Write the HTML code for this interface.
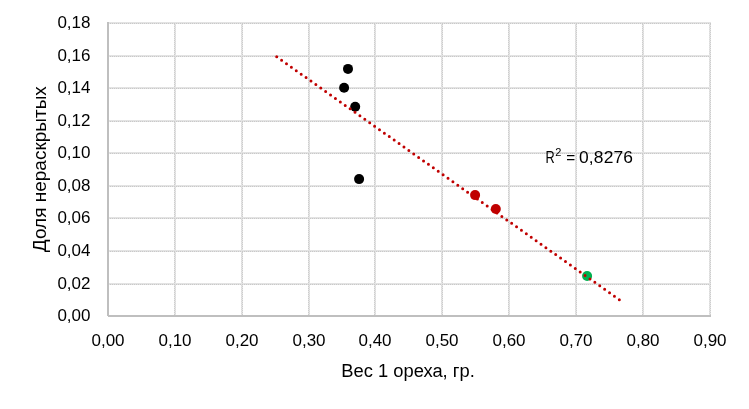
<!DOCTYPE html>
<html><head><meta charset="utf-8"><style>
html,body{margin:0;padding:0;background:#fff;width:749px;height:409px;overflow:hidden}
svg{display:block;will-change:transform}
.t{font-family:"Liberation Sans",sans-serif;fill:#000;-webkit-font-smoothing:antialiased}
</style></head><body>
<svg width="749" height="409" viewBox="0 0 749 409">
<defs><pattern id="gp" x="0" y="0" width="2" height="2" patternUnits="userSpaceOnUse"><rect width="2" height="2" fill="#e6e6e6"/><rect width="1" height="1" fill="#cdcdcd"/><rect x="1" y="1" width="1" height="1" fill="#dadada"/></pattern></defs>
<rect x="174" y="22" width="2" height="293" fill="url(#gp)"/>
<rect x="241" y="22" width="2" height="293" fill="url(#gp)"/>
<rect x="308" y="22" width="2" height="293" fill="url(#gp)"/>
<rect x="374" y="22" width="2" height="293" fill="url(#gp)"/>
<rect x="441" y="22" width="2" height="293" fill="url(#gp)"/>
<rect x="508" y="22" width="2" height="293" fill="url(#gp)"/>
<rect x="575" y="22" width="2" height="293" fill="url(#gp)"/>
<rect x="642" y="22" width="2" height="293" fill="url(#gp)"/>
<rect x="709" y="22" width="2" height="293" fill="url(#gp)"/>
<rect x="107" y="22" width="604" height="2" fill="#e3e3e3"/>
<line x1="107" y1="23.5" x2="711" y2="23.5" stroke="#c9c9c9" stroke-width="1" stroke-dasharray="1 1" stroke-dashoffset="1"/>
<rect x="107" y="55" width="604" height="2" fill="#e3e3e3"/>
<line x1="107" y1="56.5" x2="711" y2="56.5" stroke="#c9c9c9" stroke-width="1" stroke-dasharray="1 1" stroke-dashoffset="1"/>
<rect x="107" y="87" width="604" height="2" fill="#e3e3e3"/>
<line x1="107" y1="88.5" x2="711" y2="88.5" stroke="#c9c9c9" stroke-width="1" stroke-dasharray="1 1" stroke-dashoffset="1"/>
<rect x="107" y="120" width="604" height="2" fill="#e3e3e3"/>
<line x1="107" y1="121.5" x2="711" y2="121.5" stroke="#c9c9c9" stroke-width="1" stroke-dasharray="1 1" stroke-dashoffset="1"/>
<rect x="107" y="152" width="604" height="2" fill="#e3e3e3"/>
<line x1="107" y1="153.5" x2="711" y2="153.5" stroke="#c9c9c9" stroke-width="1" stroke-dasharray="1 1" stroke-dashoffset="1"/>
<rect x="107" y="185" width="604" height="2" fill="#e3e3e3"/>
<line x1="107" y1="186.5" x2="711" y2="186.5" stroke="#c9c9c9" stroke-width="1" stroke-dasharray="1 1" stroke-dashoffset="1"/>
<rect x="107" y="217" width="604" height="2" fill="#e3e3e3"/>
<line x1="107" y1="218.5" x2="711" y2="218.5" stroke="#c9c9c9" stroke-width="1" stroke-dasharray="1 1" stroke-dashoffset="1"/>
<rect x="107" y="250" width="604" height="2" fill="#e3e3e3"/>
<line x1="107" y1="251.5" x2="711" y2="251.5" stroke="#c9c9c9" stroke-width="1" stroke-dasharray="1 1" stroke-dashoffset="1"/>
<rect x="107" y="283" width="604" height="2" fill="#e3e3e3"/>
<line x1="107" y1="284.5" x2="711" y2="284.5" stroke="#c9c9c9" stroke-width="1" stroke-dasharray="1 1" stroke-dashoffset="1"/>
<rect x="107" y="22" width="2" height="294" fill="#bfbfbf"/>
<rect x="108" y="315" width="603" height="2" fill="#bfbfbf"/>
<text x="90.5" y="27.60" text-anchor="end" class="t" font-size="17">0,18</text>
<text x="90.5" y="60.60" text-anchor="end" class="t" font-size="17">0,16</text>
<text x="90.5" y="92.60" text-anchor="end" class="t" font-size="17">0,14</text>
<text x="90.5" y="125.60" text-anchor="end" class="t" font-size="17">0,12</text>
<text x="90.5" y="157.60" text-anchor="end" class="t" font-size="17">0,10</text>
<text x="90.5" y="190.60" text-anchor="end" class="t" font-size="17">0,08</text>
<text x="90.5" y="222.60" text-anchor="end" class="t" font-size="17">0,06</text>
<text x="90.5" y="255.60" text-anchor="end" class="t" font-size="17">0,04</text>
<text x="90.5" y="288.60" text-anchor="end" class="t" font-size="17">0,02</text>
<text x="90.5" y="320.60" text-anchor="end" class="t" font-size="17">0,00</text>
<text x="108.00" y="346" text-anchor="middle" class="t" font-size="17">0,00</text>
<text x="175.00" y="346" text-anchor="middle" class="t" font-size="17">0,10</text>
<text x="242.00" y="346" text-anchor="middle" class="t" font-size="17">0,20</text>
<text x="309.00" y="346" text-anchor="middle" class="t" font-size="17">0,30</text>
<text x="375.00" y="346" text-anchor="middle" class="t" font-size="17">0,40</text>
<text x="442.00" y="346" text-anchor="middle" class="t" font-size="17">0,50</text>
<text x="509.00" y="346" text-anchor="middle" class="t" font-size="17">0,60</text>
<text x="576.00" y="346" text-anchor="middle" class="t" font-size="17">0,70</text>
<text x="643.00" y="346" text-anchor="middle" class="t" font-size="17">0,80</text>
<text x="710.00" y="346" text-anchor="middle" class="t" font-size="17">0,90</text>
<circle cx="348.0" cy="68.9" r="5" fill="#000"/>
<circle cx="344.1" cy="87.8" r="5" fill="#000"/>
<circle cx="355.2" cy="106.7" r="5" fill="#000"/>
<circle cx="359.1" cy="179.1" r="5" fill="#000"/>
<circle cx="475.1" cy="195.1" r="5" fill="#c00000"/>
<circle cx="495.8" cy="209.0" r="5" fill="#c00000"/>
<circle cx="587.1" cy="276.0" r="5" fill="#00b050"/>
<line x1="276.7" y1="56.8" x2="619.6" y2="299.9" stroke="#c00000" stroke-width="3" stroke-linecap="round" stroke-dasharray="0 6"/>
<text x="545.6" y="162.8" class="t" font-size="17" textLength="9.2" lengthAdjust="spacingAndGlyphs">R</text><text x="555.2" y="155.8" class="t" font-size="11">2</text><text x="566.2" y="162.8" class="t" font-size="17" textLength="9" lengthAdjust="spacingAndGlyphs">=</text><text x="579" y="162.8" class="t" font-size="17.4" textLength="54" lengthAdjust="spacing">0,8276</text>
<text x="408" y="377" text-anchor="middle" class="t" font-size="18.35">Вес 1 ореха, гр.</text>
<text transform="translate(46,169.2) rotate(-90)" text-anchor="middle" class="t" font-size="19">Доля нераскрытых</text>
</svg>
</body></html>
